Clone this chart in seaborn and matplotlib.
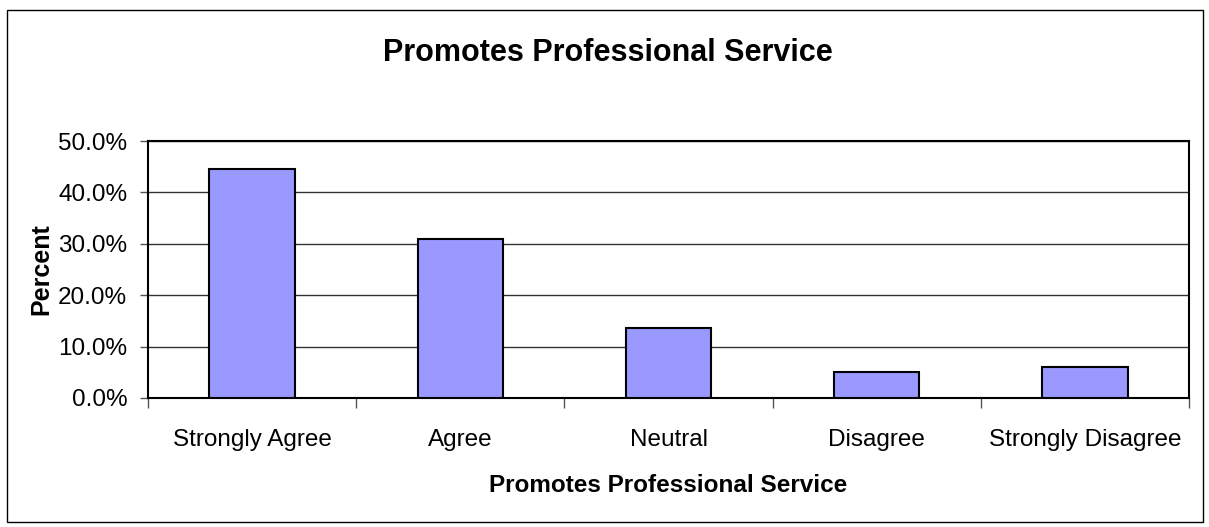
import pandas as pd
import matplotlib
matplotlib.use("Agg")
import matplotlib.pyplot as plt
from matplotlib.patches import Rectangle
from matplotlib.ticker import PercentFormatter, FixedLocator
import seaborn as sns

# Datos
categorias = ['Strongly Agree', 'Agree', 'Neutral', 'Disagree', 'Strongly Disagree']
porcentajes = [44.6, 30.9, 13.6, 5.0, 6.1]
ticks_y = [0, 10, 20, 30, 40, 50]

df = pd.DataFrame({'Respuesta': categorias, 'Porcentaje': porcentajes})

sns.set_style("white", rc={'text.color': 'black', 'axes.labelcolor': 'black',
                           'xtick.color': 'black', 'ytick.color': 'black'})
plt.rcParams['font.family'] = ['Liberation Sans', 'DejaVu Sans']

fig = plt.figure(figsize=(12.09, 5.27), dpi=100)
ax = fig.add_axes([148 / 1209, 1 - 398 / 527, (1189 - 148) / 1209, (398 - 141) / 527])

sns.barplot(x='Respuesta', y='Porcentaje', data=df, color='#9999FF',
            edgecolor='black', linewidth=1.5, width=0.41, saturation=1, ax=ax, zorder=3)

ax.set_xlim(-0.5, len(categorias) - 0.5)
ax.set_ylim(0, 50)
ax.set_yticks(ticks_y)
ax.yaxis.set_major_formatter(PercentFormatter(decimals=1))
ax.yaxis.grid(True, color='#333333', linewidth=1.0, zorder=0)
ax.set_axisbelow(True)

# ticks de categoria en los limites
ax.xaxis.set_minor_locator(FixedLocator([i - 0.5 for i in range(len(categorias) + 1)]))
ax.tick_params(axis='x', which='major', length=0, labelsize=17.5, pad=22)
ax.tick_params(axis='x', which='minor', length=7, width=1, color='#555555', direction='out', bottom=True)
ax.tick_params(axis='y', length=6, width=1, color='#555555', direction='out', left=True, labelsize=17.5,
               labelcolor='black', pad=9)

for s in ax.spines.values():
    s.set_color('black')
    s.set_linewidth(1.5)

ax.set_xlabel('Promotes Professional Service', fontsize=17.5, fontweight='bold', labelpad=17)
ax.set_ylabel('Percent', fontsize=18, fontweight='bold', labelpad=3)

fig.text(0.503, 0.9, 'Promotes Professional Service', ha='center', va='center',
         fontsize=22, fontweight='bold')

# marco exterior
fig.patches.append(Rectangle((7 / 1209, 5 / 527), 1196 / 1209, 512 / 527, transform=fig.transFigure,
                             fill=False, edgecolor='black', linewidth=1.0))

plt.savefig('out.png', dpi=100)
